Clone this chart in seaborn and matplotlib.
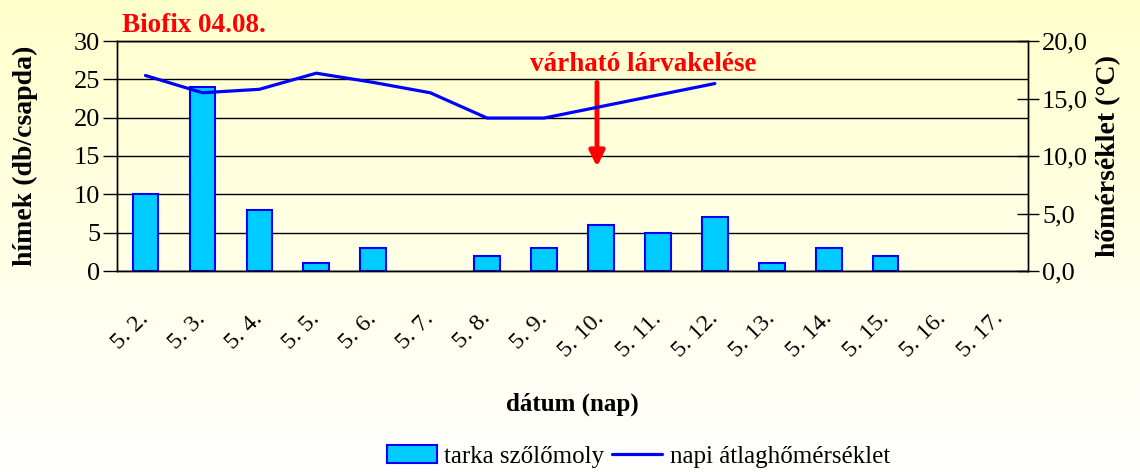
import numpy as np
import pandas as pd
import seaborn as sns
import matplotlib.pyplot as plt
from matplotlib.patches import Patch
from matplotlib.lines import Line2D
from matplotlib.colors import LinearSegmentedColormap

# data
dates = ["5. 2.", "5. 3.", "5. 4.", "5. 5.", "5. 6.", "5. 7.", "5. 8.", "5. 9.",
         "5. 10.", "5. 11.", "5. 12.", "5. 13.", "5. 14.", "5. 15.", "5. 16.", "5. 17."]
moths = [10, 24, 8, 1, 3, 0, 2, 3, 6, 5, 7, 1, 3, 2, 0, 0]
temps = [17.0, 15.5, 15.8, 17.2, 16.4, 15.5, 13.3, 13.3, 14.3, 15.3, 16.3]

BAR_FILL = "#00CCFF"
BLUE = "#0000FF"
RED = "#FF0000"


def main():
    sns.set_style("white")
    plt.rcParams["font.family"] = ["Liberation Serif", "DejaVu Serif"]
    plt.rcParams["text.color"] = "black"
    plt.rcParams["axes.labelcolor"] = "black"
    plt.rcParams["xtick.color"] = "black"
    plt.rcParams["ytick.color"] = "black"

    df = pd.DataFrame({"datum": dates, "himek": moths})
    tdf = pd.DataFrame({"pos": np.arange(len(temps)), "temp": temps})

    fig = plt.figure(figsize=(11.4, 4.72), dpi=100)

    # yellow-to-white background gradient
    bg = fig.add_axes([0, 0, 1, 1], zorder=-10)
    cmap = LinearSegmentedColormap.from_list("bg", ["#FFFFFF", "#FFFFCC"])
    bg.imshow(np.linspace(0, 1, 256).reshape(-1, 1), cmap=cmap, aspect="auto",
              origin="lower", extent=[0, 1, 0, 1])
    bg.axis("off")

    ax = fig.add_axes([117 / 1140, 1 - 271 / 472, (1028 - 117) / 1140, 230 / 472])
    ax.set_facecolor("none")

    sns.barplot(data=df, x="datum", y="himek", color=BAR_FILL, saturation=1,
                edgecolor=BLUE, linewidth=1.5, width=0.45, ax=ax, zorder=3)
    # Excel draws nothing for zero counts
    for p in ax.patches:
        if p.get_height() == 0:
            p.set_visible(False)

    ax.set_ylim(0, 30)
    ax.set_xlim(-0.5, len(dates) - 0.5)
    ax.set_yticks(range(0, 31, 5))
    ax.yaxis.grid(True, color="black", linewidth=1)
    ax.set_axisbelow(True)
    for s in ax.spines.values():
        s.set_color("black")
        s.set_linewidth(1)

    # category labels at centres, tick marks between categories
    ax.set_xticks(range(len(dates)))
    ax.set_xticklabels(dates, rotation=45, ha="right", va="center",
                       rotation_mode="anchor", fontsize=17.5)
    ax.tick_params(axis="x", which="major", length=0, pad=32)
    ax.set_xticks(np.arange(-0.5, len(dates)), minor=True)
    ax.tick_params(axis="x", which="minor", direction="inout", length=14,
                   width=1, color="black")
    ax.tick_params(axis="y", direction="out", length=10, width=1,
                   color="black", labelsize=19, pad=2)

    ax.set_xlabel("dátum (nap)", fontsize=18, fontweight="bold", labelpad=22)
    ax.set_ylabel("hímek (db/csapda)", fontsize=20, fontweight="bold", labelpad=26)

    # temperature on secondary axis
    ax2 = ax.twinx()
    sns.lineplot(data=tdf, x="pos", y="temp", color=BLUE, linewidth=2.3, ax=ax2)
    ax2.set_ylim(0, 20)
    ax2.set_yticks(range(0, 21, 5))
    ax2.set_yticklabels([f"{v:.1f}".replace(".", ",") for v in range(0, 21, 5)])
    ax2.tick_params(axis="y", direction="inout", length=16, width=1,
                    color="black", labelsize=19, pad=2)
    ax2.set_ylabel("hőmérséklet (°C)", fontsize=20, fontweight="bold", labelpad=6)
    ax2.set_xlim(-0.5, len(dates) - 0.5)
    for s in ax2.spines.values():
        s.set_color("black")
        s.set_linewidth(1)

    # annotations
    ax.text(0.005, 1.039, "Biofix 04.08.", transform=ax.transAxes, color=RED,
            fontsize=19.5, fontweight="bold", ha="left", va="baseline")
    ax.text(8.75, 27.0, "várható lárvakelése", color=RED, fontsize=19.5,
            fontweight="bold", ha="center", va="center")
    ax.annotate("", xy=(7.93, 13.6), xytext=(7.93, 24.6),
                arrowprops=dict(arrowstyle="-|>,head_width=0.45,head_length=0.9",
                                color=RED, lw=3.5, shrinkA=0, shrinkB=0))

    handles = [Patch(facecolor=BAR_FILL, edgecolor=BLUE, linewidth=1.5),
               Line2D([0], [0], color=BLUE, linewidth=2.3)]
    fig.legend(handles, ["tarka szőlőmoly", "napi átlaghőmérséklet"],
               loc="center", bbox_to_anchor=(0.56, 0.033), ncol=2, frameon=False,
               fontsize=18, handlelength=2.0, handletextpad=0.3, columnspacing=0.3)

    fig.savefig("out.png", dpi=100)


if __name__ == "__main__":
    main()
